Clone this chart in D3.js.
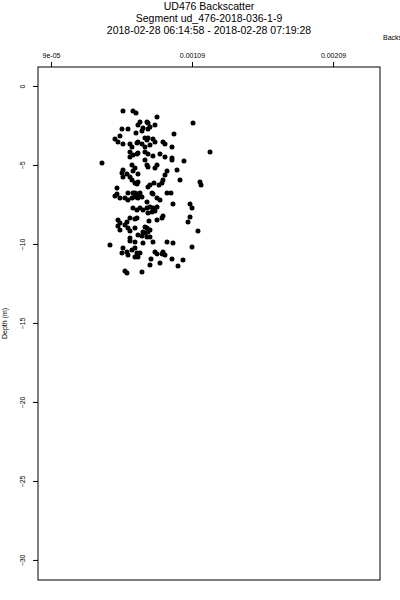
<!DOCTYPE html>
<html lang="en">
<head>
  <meta charset="UTF-8">
  <title>UD476 Backscatter</title>
  <script src="https://d3js.org/d3.v7.min.js"></script>
  <style>
    body {
      margin: 0;
      background: #fff;
      font-family: "Liberation Sans", Arial, sans-serif;
    }
    .title { font-size: 10.5px; fill: #000; }
    .tick-label { font-size: 7px; fill: #000; }
    .axis-label { font-size: 7px; fill: #000; }
  </style>
</head>
<body>
  <div id="chart"></div>
  <script>
    // Chart text
    const titleLines = [
      "UD476 Backscatter",
      "Segment ud_476-2018-036-1-9",
      "2018-02-28 06:14:58 - 2018-02-28 07:19:28"
    ];
    const xLabel = "Backscatter";
    const yLabel = "Depth (m)";

    // Tick values and labels
    const xTicks = [0.00009, 0.00109, 0.00209];
    const xTickLabels = ["9e-05", "0.00109", "0.00209"];
    const yTicks = [0, -5, -10, -15, -20, -25, -30];

    // Samples
    const backscatter = [
      6.006e-4, 6.715e-4, 6.928e-4, 8.418e-4, 7.708e-4, 7.779e-4, 7.212e-4, 7.070e-4, 8.276e-4, 7.921e-4,
      7.779e-4, 7.425e-4, 7.354e-4, 10.971e-4, 5.935e-4, 6.361e-4, 6.928e-4, 9.623e-4, 5.793e-4, 5.439e-4,
      5.652e-4, 6.006e-4, 6.503e-4, 6.645e-4, 6.999e-4, 7.070e-4, 7.566e-4, 7.708e-4, 7.779e-4, 8.134e-4,
      8.276e-4, 7.354e-4, 7.566e-4, 7.921e-4, 8.843e-4, 8.985e-4, 9.481e-4, 6.503e-4, 6.999e-4, 7.070e-4,
      7.566e-4, 7.779e-4, 8.134e-4, 8.630e-4, 8.985e-4, 9.481e-4, 6.715e-4, 6.503e-4, 12.176e-4, 4.517e-4,
      7.566e-4, 7.708e-4, 7.779e-4, 6.645e-4, 6.857e-4, 6.715e-4, 8.418e-4, 8.276e-4, 9.481e-4, 10.332e-4,
      6.006e-4, 5.935e-4, 6.290e-4, 6.006e-4, 7.070e-4, 6.503e-4, 6.645e-4, 6.857e-4, 7.070e-4, 6.999e-4,
      9.127e-4, 8.985e-4, 8.843e-4, 8.772e-4, 8.559e-4, 8.205e-4, 7.921e-4, 7.779e-4, 9.836e-4, 10.049e-4,
      5.581e-4, 11.467e-4, 11.538e-4, 6.361e-4, 6.715e-4, 6.857e-4, 7.070e-4, 7.212e-4, 8.063e-4, 8.134e-4,
      9.127e-4, 9.410e-4, 5.581e-4, 5.439e-4, 5.793e-4, 6.148e-4, 6.361e-4, 6.645e-4, 6.857e-4, 7.070e-4,
      7.354e-4, 7.708e-4, 8.418e-4, 8.630e-4, 9.552e-4, 10.758e-4, 10.900e-4, 6.715e-4, 6.999e-4, 7.212e-4,
      7.425e-4, 7.708e-4, 7.921e-4, 8.134e-4, 8.418e-4, 8.276e-4, 8.063e-4, 7.779e-4, 8.843e-4, 8.772e-4,
      8.418e-4, 10.758e-4, 10.616e-4, 6.503e-4, 6.857e-4, 6.999e-4, 5.652e-4, 5.793e-4, 5.652e-4, 6.290e-4,
      6.148e-4, 7.850e-4, 6.361e-4, 6.503e-4, 6.857e-4, 7.566e-4, 7.708e-4, 7.779e-4, 7.566e-4, 7.425e-4,
      7.921e-4, 5.793e-4, 11.325e-4, 7.070e-4, 7.354e-4, 7.708e-4, 7.921e-4, 6.503e-4, 5.084e-4, 6.503e-4,
      6.857e-4, 7.425e-4, 8.134e-4, 9.127e-4, 9.552e-4, 10.900e-4, 6.006e-4, 5.935e-4, 6.290e-4, 6.361e-4,
      6.645e-4, 6.857e-4, 6.999e-4, 7.070e-4, 6.857e-4, 7.212e-4, 8.276e-4, 8.418e-4, 8.843e-4, 8.985e-4,
      8.772e-4, 7.992e-4, 7.921e-4, 8.630e-4, 9.481e-4, 10.261e-4, 9.907e-4, 6.148e-4, 6.290e-4, 7.354e-4
    ];
    const depth = [
      -1.58, -1.58, -1.71, -1.96, -2.28, -2.34, -2.28, -2.47, -2.47, -2.59,
      -2.72, -2.66, -2.85, -2.34, -2.72, -2.72, -2.97, -3.04, -3.16, -3.35,
      -3.54, -3.67, -3.67, -3.86, -3.61, -3.54, -3.29, -3.42, -3.29, -3.35,
      -3.54, -3.67, -3.86, -3.73, -3.54, -3.67, -3.86, -4.18, -4.30, -4.24,
      -4.18, -4.30, -4.43, -4.30, -4.49, -4.56, -4.37, -4.49, -4.18, -4.87,
      -4.68, -5.00, -5.13, -5.00, -5.19, -5.38, -5.00, -5.19, -4.68, -4.75,
      -5.32, -5.51, -5.57, -5.76, -5.57, -5.76, -5.95, -6.14, -6.08, -6.20,
      -5.38, -5.63, -5.95, -6.14, -6.27, -6.14, -6.27, -6.39, -5.32, -5.95,
      -6.46, -6.08, -6.27, -6.77, -6.77, -6.77, -6.84, -6.77, -6.77, -6.84,
      -6.77, -6.77, -6.84, -6.96, -7.09, -7.09, -7.22, -7.09, -7.03, -7.09,
      -7.03, -7.34, -7.09, -7.22, -7.47, -7.47, -7.72, -7.72, -7.85, -7.72,
      -7.85, -7.72, -7.66, -7.72, -7.66, -7.91, -7.97, -8.04, -8.23, -8.35,
      -8.48, -8.29, -8.61, -8.35, -8.42, -8.35, -8.48, -8.67, -8.86, -8.61,
      -8.80, -8.54, -8.99, -9.18, -8.99, -8.92, -8.99, -9.24, -9.30, -9.24,
      -9.11, -9.11, -9.18, -9.43, -9.49, -9.56, -9.56, -9.62, -10.06, -9.81,
      -9.87, -9.94, -9.87, -9.87, -9.94, -10.19, -10.25, -10.57, -10.51, -10.70,
      -10.38, -10.25, -10.57, -10.82, -10.82, -10.57, -10.51, -10.63, -10.51, -10.70,
      -10.63, -10.95, -11.33, -11.20, -10.95, -11.01, -11.39, -11.71, -11.84, -11.77
    ];

    const data = backscatter.map((b, i) => ({ b, d: depth[i] }));

    const width = 400;
    const height = 600;
    const plot = { left: 38, right: 380, top: 67, bottom: 580 };

    const svg = d3.select("#chart").append("svg")
      .attr("width", width)
      .attr("height", height);

    const x = d3.scaleLinear()
      .domain([-0.000002, 0.002423])
      .range([plot.left, plot.right]);

    const y = d3.scaleLinear()
      .domain([1.2, -31.27])
      .range([plot.top, plot.bottom]);

    // Titles
    svg.selectAll(".title")
      .data(titleLines)
      .enter().append("text")
      .attr("class", "title")
      .attr("x", (plot.left + plot.right) / 2)
      .attr("y", (d, i) => 10 + i * 12)
      .attr("text-anchor", "middle")
      .text(d => d);

    // Top axis
    const xAxis = svg.append("g")
      .attr("transform", `translate(0,${plot.top})`)
      .call(d3.axisTop(x)
        .tickValues(xTicks)
        .tickSize(5)
        .tickFormat((d, i) => xTickLabels[i]));
    xAxis.select(".domain").remove();
    xAxis.attr("font-family", null).attr("font-size", null);
    xAxis.selectAll("line").attr("stroke", "#000");
    xAxis.selectAll("text")
      .attr("class", "tick-label")
      .attr("fill", "#000")
      .attr("y", -9);

    // Left axis
    const yAxis = svg.append("g")
      .attr("transform", `translate(${plot.left},0)`)
      .call(d3.axisLeft(y)
        .tickValues(yTicks)
        .tickSize(5)
        .tickFormat(d3.format("d")));
    yAxis.select(".domain").remove();
    yAxis.attr("font-family", null).attr("font-size", null);
    yAxis.selectAll("line").attr("stroke", "#000");
    yAxis.selectAll("text")
      .attr("class", "tick-label")
      .attr("fill", "#000")
      .attr("x", null)
      .attr("dy", null)
      .attr("text-anchor", "middle")
      .attr("transform", "translate(-13,0) rotate(-90)");

    // Plot box
    svg.append("rect")
      .attr("x", plot.left)
      .attr("y", plot.top)
      .attr("width", plot.right - plot.left)
      .attr("height", plot.bottom - plot.top)
      .attr("fill", "none")
      .attr("stroke", "#000")
      .attr("stroke-width", 1);

    // Axis titles (the top one runs off the right edge, as in the source)
    svg.append("text")
      .attr("class", "axis-label")
      .attr("x", 383)
      .attr("y", 40)
      .text(xLabel);

    svg.append("text")
      .attr("class", "axis-label")
      .attr("transform", `translate(7,${(plot.top + plot.bottom) / 2}) rotate(-90)`)
      .attr("text-anchor", "middle")
      .text(yLabel);

    // Points
    svg.selectAll(".pt")
      .data(data)
      .enter().append("circle")
      .attr("class", "pt")
      .attr("cx", d => x(d.b))
      .attr("cy", d => y(d.d))
      .attr("r", 2.5)
      .attr("fill", "#000");
  </script>
</body>
</html>
